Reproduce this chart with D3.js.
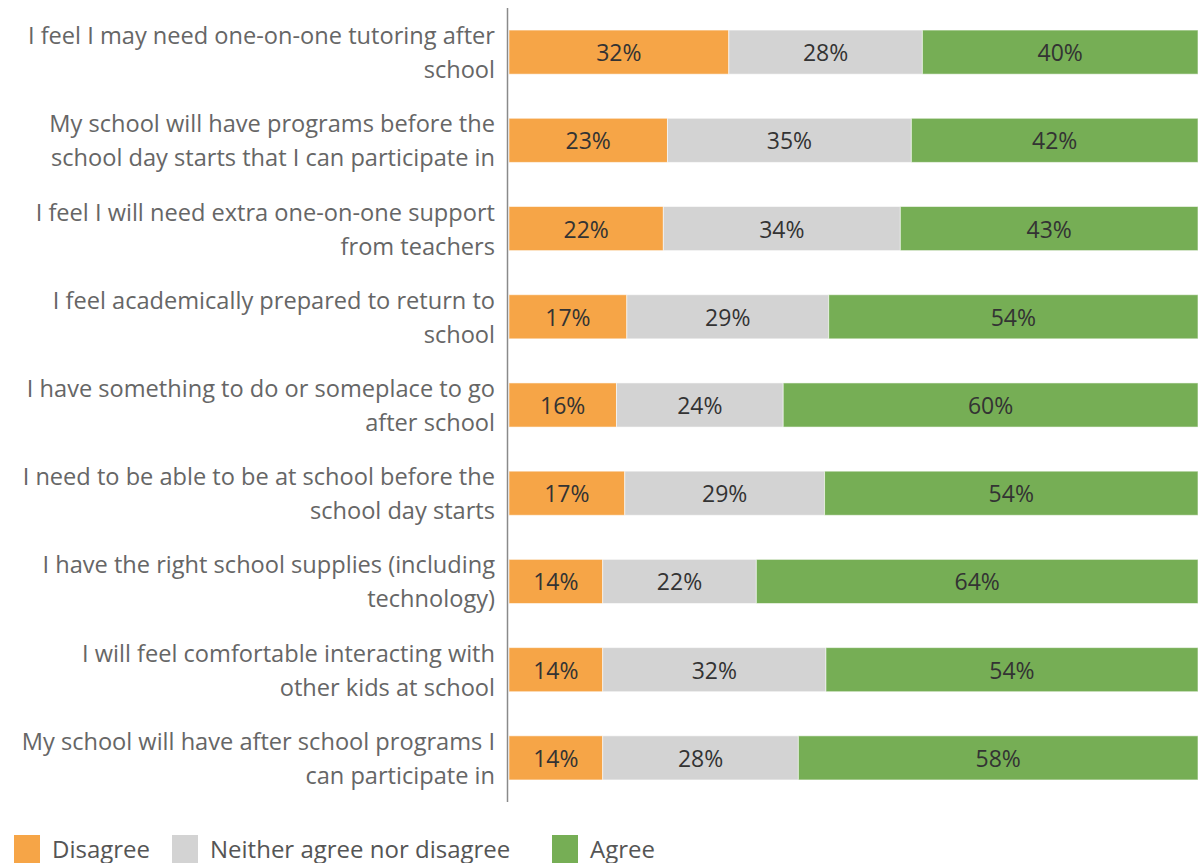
<!DOCTYPE html>
<html>
<head>
<meta charset="utf-8">
<script src="https://cdn.jsdelivr.net/npm/d3@7"></script>
<style>
  html, body { margin: 0; padding: 0; background: #fff; }
  svg { display: block; }
  text { font-family: "Open Sans", "Noto Sans", sans-serif; }
</style>
</head>
<body>
<svg id="chart" width="1198" height="863"></svg>
<script>
// Survey statements (line breaks mark where each label wraps)
const categories = [
  "I feel I may need one-on-one tutoring after\nschool",
  "My school will have programs before the\nschool day starts that I can participate in",
  "I feel I will need extra one-on-one support\nfrom teachers",
  "I feel academically prepared to return to\nschool",
  "I have something to do or someplace to go\nafter school",
  "I need to be able to be at school before the\nschool day starts",
  "I have the right school supplies (including\ntechnology)",
  "I will feel comfortable interacting with\nother kids at school",
  "My school will have after school programs I\ncan participate in"
];

// Response shares in percent, one value per statement
const disagree = [31.9, 23.0, 22.4, 17.1, 15.6, 16.8, 13.6, 13.6, 13.6];
const neither  = [28.1, 35.4, 34.4, 29.3, 24.2, 29.0, 22.3, 32.4, 28.4];
const agree    = [40.0, 41.6, 43.2, 53.6, 60.2, 54.2, 64.1, 54.0, 58.0];

const seriesNames = ["Disagree", "Neither agree nor disagree", "Agree"];
const seriesColors = ["#F6A547", "#D3D3D3", "#76AE55"];

const rows = categories.map((c, i) => ({
  category: c,
  "Disagree": disagree[i],
  "Neither agree nor disagree": neither[i],
  "Agree": agree[i]
}));

const svg = d3.select("#chart");

const x = d3.scaleLinear().domain([0, 100]).range([509, 1198]);
const y = d3.scaleBand()
  .domain(categories)
  .range([8, 802])
  .paddingInner(0.5)
  .paddingOuter(0.25);
const color = d3.scaleOrdinal().domain(seriesNames).range(seriesColors);

const stacked = d3.stack().keys(seriesNames)(rows);

// Stacked bar segments
const layers = svg.append("g")
  .selectAll("g")
  .data(stacked)
  .join("g")
  .attr("fill", d => color(d.key));

layers.selectAll("rect")
  .data(d => d)
  .join("rect")
  .attr("x", d => x(d[0]))
  .attr("y", d => y(d.data.category))
  .attr("width", d => x(d[1]) - x(d[0]))
  .attr("height", y.bandwidth())
  .attr("stroke", "rgba(255,255,255,0.55)")
  .attr("stroke-width", 1);

// Percentage labels centred in each segment
layers.selectAll("text")
  .data(d => d)
  .join("text")
  .attr("x", d => (x(d[0]) + x(d[1])) / 2)
  .attr("y", d => y(d.data.category) + y.bandwidth() / 2)
  .attr("text-anchor", "middle")
  .attr("dominant-baseline", "central")
  .attr("font-size", 23)
  .attr("fill", "#333")
  .text(d => Math.round(d[1] - d[0]) + "%");

// Category axis: vertical rule plus wrapped, right-aligned labels
svg.append("line")
  .attr("x1", 507.5).attr("x2", 507.5)
  .attr("y1", 8).attr("y2", 802)
  .attr("stroke", "#8a8a8a")
  .attr("stroke-width", 1.5);

const labels = svg.append("g")
  .selectAll("text")
  .data(categories)
  .join("text")
  .attr("text-anchor", "end")
  .attr("font-size", 23.6)
  .attr("fill", "#666");

labels.each(function(c) {
  const lines = c.split("\n");
  const cy = y(c) + y.bandwidth() / 2;
  const lh = 34;
  const top = cy - (lines.length - 1) * lh / 2;
  d3.select(this).selectAll("tspan")
    .data(lines)
    .join("tspan")
    .attr("x", 495)
    .attr("y", (d, i) => top + i * lh)
    .attr("dominant-baseline", "central")
    .text(d => d);
});

// Legend
const legendX = [14, 172, 552];
const legend = svg.append("g")
  .selectAll("g")
  .data(seriesNames)
  .join("g")
  .attr("transform", (d, i) => `translate(${legendX[i]},835)`);

legend.append("rect")
  .attr("width", 26)
  .attr("height", 28)
  .attr("fill", d => color(d));

legend.append("text")
  .attr("x", 38)
  .attr("y", 13)
  .attr("dominant-baseline", "central")
  .attr("font-size", 24)
  .attr("fill", "#555")
  .text(d => d);
</script>
</body>
</html>
